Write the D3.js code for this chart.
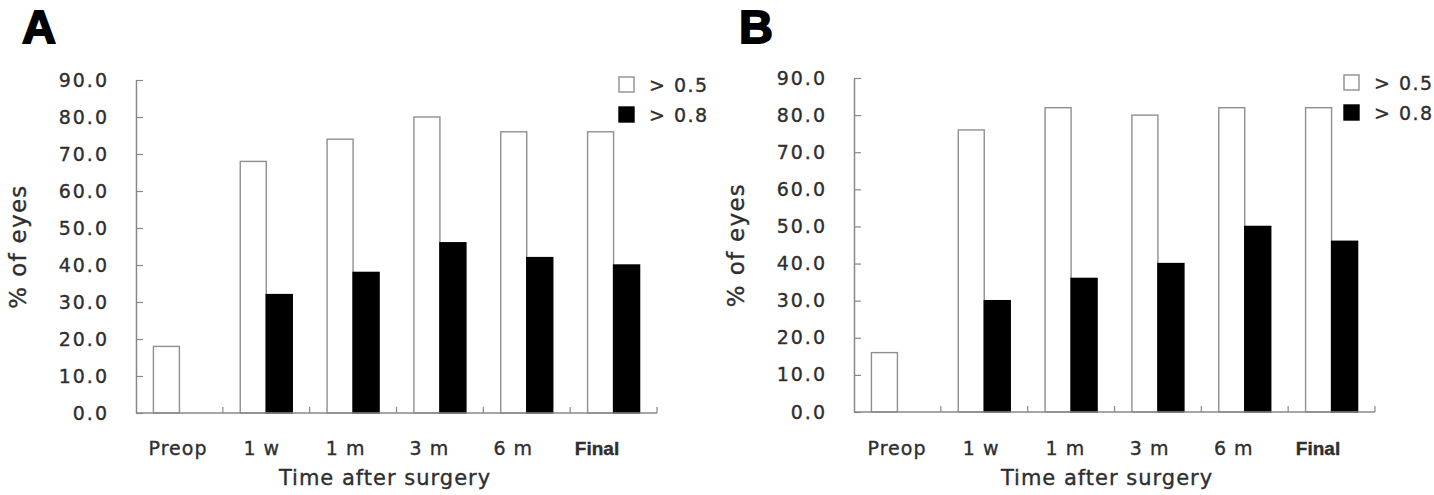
<!DOCTYPE html>
<html>
<head>
<meta charset="utf-8">
<script src="https://cdn.jsdelivr.net/npm/d3@7"></script>
<style>
  html, body { margin: 0; padding: 0; background: #fff; }
  svg { display: block; }
</style>
</head>
<body>
<svg id="chart" width="1434" height="495"></svg>
<script>
// ── data ──
const categories = ["Preop", "1 w", "1 m", "3 m", "6 m", "Final"];
const seriesNames = ["> 0.5", "> 0.8"];
const yTicks = [0, 10, 20, 30, 40, 50, 60, 70, 80, 90];
const panelA_over05 = [18, 68, 74, 80, 76, 76];
const panelA_over08 = [0, 32, 38, 46, 42, 40];
const panelB_over05 = [16, 76, 82, 80, 82, 82];
const panelB_over08 = [0, 30, 36, 40, 50, 46];

const TXT = "#2e2e2e",
  AX = "#888";

// layout only
const panels = [
  { letter: "A", lx: 23, x0: 136, x1: 657, yTop: 80, yBot: 413, lab: [178, 597], tx: 385, legX: 619, legY: 77, yTitleX: 26, a: panelA_over05, b: panelA_over08 },
  { letter: "B", lx: 740, x0: 854, x1: 1375, yTop: 78, yBot: 412, lab: [897, 1318], tx: 1107, legX: 1344, legY: 75, yTitleX: 744, a: panelB_over05, b: panelB_over08 },
];

const svg = d3.select("#chart");

panels.forEach((p) => drawPanel(p));

// heavier text, closer to the scanned figure
function ink(sel) {
  sel.attr("fill", TXT).attr("stroke", TXT).attr("stroke-width", 0.35);
}

function drawPanel(p) {
  const g = svg.append("g");
  const x = d3.scaleBand().domain(categories).range([p.x0, p.x1]).paddingInner(0).paddingOuter(0);
  const xs = d3.scaleBand().domain(seriesNames).range([0, x.step()]).paddingInner(0).paddingOuter(0.67);
  const y = d3.scaleLinear().domain([0, 90]).range([p.yBot, p.yTop]);

  // panel letter
  g.append("text")
    .attr("x", p.lx - 1)
    .attr("y", 43)
    .attr("font-family", "Liberation Sans, Arial, sans-serif")
    .attr("font-weight", "bold")
    .attr("font-size", "47px")
    .attr("stroke", "#000")
    .attr("stroke-width", 1.8)
    .attr("fill", "#000")
    .text(p.letter);

  // bars
  const rows = categories.map((c, i) => ({ cat: c, vals: [p.a[i], p.b[i]] }));
  const grp = g
    .selectAll(".grp")
    .data(rows)
    .enter()
    .append("g")
    .attr("transform", (d) => `translate(${x(d.cat)},0)`);
  grp
    .selectAll("rect")
    .data((d) => d.vals.map((v, k) => ({ s: seriesNames[k], v, k })).filter((e) => e.v > 0))
    .enter()
    .append("rect")
    .attr("x", (d) => xs(d.s))
    .attr("y", (d) => y(d.v))
    .attr("width", xs.bandwidth())
    .attr("height", (d) => y(0) - y(d.v))
    .attr("fill", (d) => (d.k === 0 ? "#fff" : "#000"))
    .attr("stroke", (d) => (d.k === 0 ? "#8f8f8f" : "#000"))
    .attr("stroke-width", 1.4);

  // y axis
  const ya = g
    .append("g")
    .attr("transform", `translate(${p.x0},0)`)
    .call(d3.axisLeft(y).tickValues(yTicks).tickFormat(d3.format(".1f")).tickSizeInner(-7).tickSizeOuter(0).tickPadding(29));
  ya.select(".domain").attr("stroke", AX).attr("stroke-width", 1.5);
  ya.selectAll(".tick line").attr("stroke", AX).attr("stroke-width", 1.2);
  ya.selectAll(".tick text")
    .call(ink)
    .attr("font-family", "DejaVu Sans, sans-serif")
    .attr("font-size", "19px")
    .attr("letter-spacing", "2px")
    .attr("dx", "2px");

  // x axis: baseline + boundary ticks
  g.append("line")
    .attr("x1", p.x0)
    .attr("x2", p.x1)
    .attr("y1", y(0))
    .attr("y2", y(0))
    .attr("stroke", AX)
    .attr("stroke-width", 1.5);
  g.selectAll(".xb")
    .data(categories)
    .enter()
    .append("line")
    .attr("x1", (d) => x(d) + x.step())
    .attr("x2", (d) => x(d) + x.step())
    .attr("y1", y(0))
    .attr("y2", y(0) - 6)
    .attr("stroke", AX)
    .attr("stroke-width", 1.2);

  // category labels
  const lx = d3.scalePoint().domain(categories).range(p.lab);
  g.selectAll(".xl")
    .data(categories)
    .enter()
    .append("text")
    .attr("x", (d) => lx(d))
    .attr("y", 455)
    .attr("text-anchor", "middle")
    .call(ink)
    .attr("font-family", (d) => (d === "Final" ? "Liberation Sans Narrow, Liberation Sans, Arial, sans-serif" : "DejaVu Sans, sans-serif"))
    .attr("font-weight", (d) => (d === "Final" ? "bold" : "normal"))
    .attr("font-size", "19px")
    .attr("letter-spacing", (d) => (d === "Final" ? "0px" : "1px"))
    .text((d) => d);

  // axis titles
  g.append("text")
    .attr("x", p.tx)
    .attr("y", 485)
    .attr("text-anchor", "middle")
    .call(ink)
    .attr("font-family", "DejaVu Sans, sans-serif")
    .attr("font-size", "21px")
    .attr("letter-spacing", "1px")
    .text("Time after surgery");
  g.append("text")
    .attr("transform", `translate(${p.yTitleX},${(p.yTop + p.yBot) / 2}) rotate(-90)`)
    .attr("text-anchor", "middle")
    .call(ink)
    .attr("font-family", "DejaVu Sans, sans-serif")
    .attr("font-size", "23px")
    .attr("letter-spacing", "1.3px")
    .text("% of eyes");

  // legend
  const leg = g
    .selectAll(".leg")
    .data(seriesNames)
    .enter()
    .append("g")
    .attr("transform", (d, i) => `translate(${p.legX},${p.legY + i * 30})`);
  leg
    .append("rect")
    .attr("width", 15)
    .attr("height", 15)
    .attr("fill", (d, i) => (i === 0 ? "#fff" : "#000"))
    .attr("stroke", (d, i) => (i === 0 ? "#8f8f8f" : "#000"))
    .attr("stroke-width", 1.4);
  leg
    .append("text")
    .attr("x", 30)
    .attr("y", 15)
    .call(ink)
    .attr("font-family", "DejaVu Sans, sans-serif")
    .attr("font-size", "19px")
    .attr("letter-spacing", "1.5px")
    .text((d) => d);
}
</script>
</body>
</html>
